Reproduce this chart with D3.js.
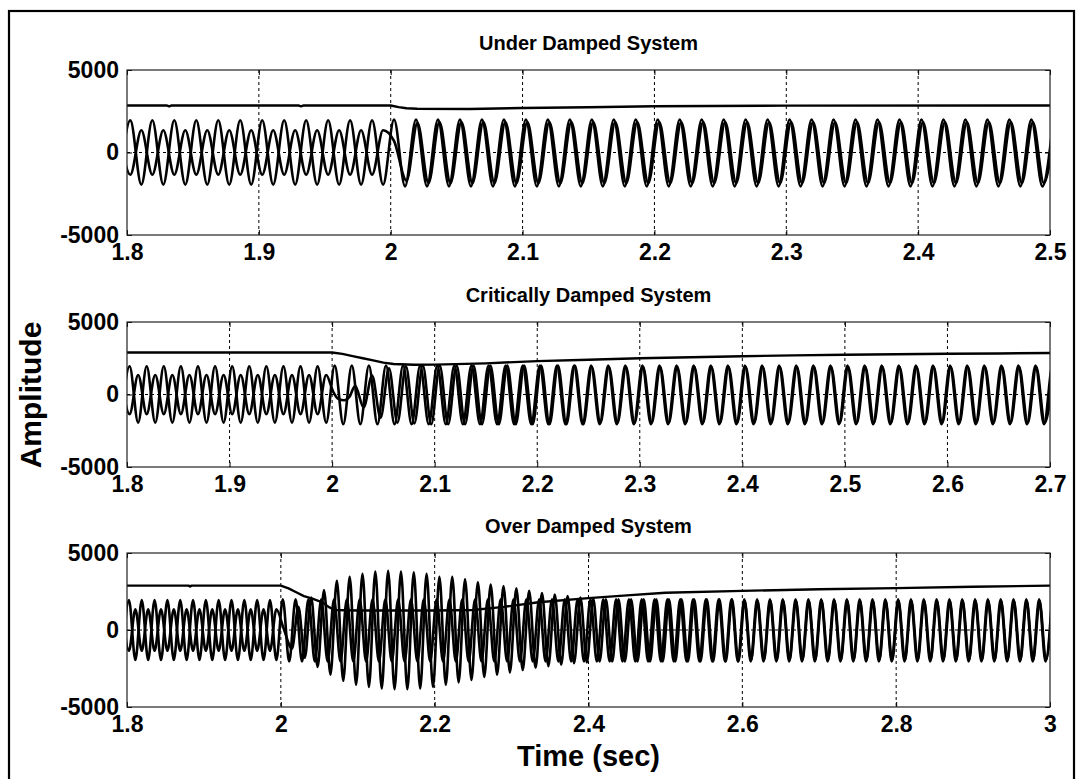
<!DOCTYPE html>
<html>
<head>
<meta charset="utf-8">
<script src="https://cdn.jsdelivr.net/npm/d3@7"></script>
<style>
  body { margin: 0; background: #fff; }
  svg { display: block; }
  text { font-family: "Liberation Sans", Arial, Helvetica, sans-serif; font-weight: bold; fill: #000; }
</style>
</head>
<body>
<svg id="chart" width="1078" height="779"></svg>
<script>
// ---------------------------------------------------------------------------
// Data. Waveforms are stored as the values at successive peaks/troughs of the
// 60 Hz signals (one extremum every half period); a monotone curve joins them.
// ---------------------------------------------------------------------------
const HALF = 1 / 120;            // half period of a 60 Hz wave (s)
const T_START = 1.7942;          // first trough of the reference wave

const titles = ["Under Damped System", "Critically Damped System", "Over Damped System"];
const xDomains = [[1.8, 2.5], [1.8, 2.7], [1.8, 3.0]];
const xTicksUnder = [1.8, 1.9, 2.0, 2.1, 2.2, 2.3, 2.4, 2.5];
const xTicksCrit = [1.8, 1.9, 2.0, 2.1, 2.2, 2.3, 2.4, 2.5, 2.6, 2.7];
const xTicksOver = [1.8, 2.0, 2.2, 2.4, 2.6, 2.8, 3.0];
const yTicks = [-5000, 0, 5000];

// steady state before the disturbance at t = 2 s (shared by all three runs)
const steadyA = [-1950, 1950, -1950, 1950, -1950, 1950, -1950, 1950, -1950, 1950,
                 -1950, 1950, -1950, 1950, -1950, 1950, -1950, 1950, -1950, 1950,
                 -1950, 1950, -1950, 1950, -1950];
const steadyB = [1350, -1350, 1350, -1350, 1350, -1350, 1350, -1350, 1350, -1350,
                 1350, -1350, 1350, -1350, 1350, -1350, 1350, -1350, 1350, -1350,
                 1350, -1350, 1350, -1350, 1350];

// --- Under damped ---
const underA_post = [2000, -2050, 2000, -2050, 2000, -2050, 2000, -2050, 2000, -2050,
                     2000, -2050, 2000, -2050, 2000, -2050, 2000, -2050, 2000, -2050,
                     2000, -2050, 2000, -2050, 2000, -2050, 2000, -2050, 2000, -2050,
                     2000, -2050, 2000, -2050, 2000, -2050, 2000, -2050, 2000, -2050,
                     2000, -2050, 2000, -2050, 2000, -2050, 2000, -2050, 2000, -2050,
                     2000, -2050, 2000, -2050, 2000, -2050, 2000, -2050, 2000, -2050,
                     2000];
const underB_switch = [[2.0025, 700]];
const underB_post = [-1700, 1800, -1850, 1850, -1850, 1850, -1850, 1850, -1850, 1850,
                     -1850, 1850, -1850, 1850, -1850, 1850, -1850, 1850, -1850, 1850,
                     -1850, 1850, -1850, 1850, -1850, 1850, -1850, 1850, -1850, 1850,
                     -1850, 1850, -1850, 1850, -1850, 1850, -1850, 1850, -1850, 1850,
                     -1850, 1850, -1850, 1850, -1850, 1850, -1850, 1850, -1850, 1850,
                     -1850, 1850, -1850, 1850, -1850, 1850, -1850, 1850, -1850, 1850];
const underDC = [[1.8, 2850], [1.83, 2850], [1.832, 2790], [1.834, 2850], [1.93, 2850],
                 [1.932, 2800], [1.934, 2850], [2.0, 2850], [2.006, 2750], [2.012, 2680],
                 [2.02, 2650], [2.06, 2640], [2.1, 2700], [2.15, 2740], [2.2, 2800],
                 [2.3, 2840], [2.5, 2850]];

// --- Critically damped ---
const critA_post = [2000, -2050, 2000, -2050, 2000, -2050, 2000, -2050, 2000, -2050,
                    2000, -2050, 2000, -2050, 2000, -2050, 2000, -2050, 2000, -2050,
                    2000, -2050, 2000, -2050, 2000, -2050, 2000, -2050, 2000, -2050,
                    2000, -2050, 2000, -2050, 2000, -2050, 2000, -2050, 2000, -2050,
                    2000, -2050, 2000, -2050, 2000, -2050, 2000, -2050, 2000, -2050,
                    2000, -2050, 2000, -2050, 2000, -2050, 2000, -2050, 2000, -2050,
                    2000, -2050, 2000, -2050, 2000, -2050, 2000, -2050, 2000, -2050,
                    2000, -2050, 2000, -2050, 2000, -2050, 2000, -2050, 2000, -2050,
                    2000, -2050, 2000, -2050, 2000, -2050];
const critB_switch = [[2.0010, 200], [2.0060, -300], [2.0120, -400], [2.0170, -150]];
const critB_pull = [600, -900, 1300, -1600, 1800, -1950, 1950, -2000, 2000, -2050,
                    2000, -2050, 2000, -2050, 2000, -2050, 2000, -2050, 2000, -2050,
                    2000, -2050, 2000, -2050, 2000, -2050, 2000, -2050];
const critB_post = [1900, -1950, 1900, -1950, 1900, -1950, 1900, -1950, 1900, -1950,
                    1900, -1950, 1900, -1950, 1900, -1950, 1900, -1950, 1900, -1950,
                    1900, -1950, 1900, -1950, 1900, -1950, 1900, -1950, 1900, -1950,
                    1900, -1950, 1900, -1950, 1900, -1950, 1900, -1950, 1900, -1950,
                    1900, -1950, 1900, -1950, 1900, -1950, 1900, -1950, 1900, -1950,
                    1900, -1950, 1900, -1950, 1900];
const critDC = [[1.8, 2900], [2.0, 2900], [2.01, 2800], [2.02, 2650], [2.03, 2500],
                [2.04, 2350], [2.05, 2200], [2.06, 2100], [2.08, 2050], [2.1, 2060],
                [2.15, 2150], [2.2, 2300], [2.25, 2400], [2.3, 2500], [2.35, 2570],
                [2.4, 2640], [2.45, 2700], [2.5, 2740], [2.55, 2780], [2.6, 2810],
                [2.65, 2830], [2.7, 2860]];

// --- Over damped ---
const overA_post = [2000, -2050, 2000, -2050, 2000, -2050, 2000, -2050, 2000, -2050,
                    2000, -2050, 2000, -2050, 2000, -2050, 2000, -2050, 2000, -2050,
                    2000, -2050, 2000, -2050, 2000, -2050, 2000, -2050, 2000, -2050,
                    2000, -2050, 2000, -2050, 2000, -2050, 2000, -2050, 2000, -2050,
                    2000, -2050, 2000, -2050, 2000, -2050, 2000, -2050, 2000, -2050,
                    2000, -2050, 2000, -2050, 2000, -2050, 2000, -2050, 2000, -2050,
                    2000, -2050, 2000, -2050, 2000, -2050, 2000, -2050, 2000, -2050,
                    2000, -2050, 2000, -2050, 2000, -2050, 2000, -2050, 2000, -2050,
                    2000, -2050, 2000, -2050, 2000, -2050, 2000, -2050, 2000, -2050,
                    2000, -2050, 2000, -2050, 2000, -2050, 2000, -2050, 2000, -2050,
                    2000, -2050, 2000, -2050, 2000, -2050, 2000, -2050, 2000, -2050,
                    2000, -2050, 2000, -2050, 2000, -2050, 2000, -2050, 2000, -2050,
                    2000];
const overB_switch = [[2.0030, 200]];
const overB_swing = [-1200, 1500, -1800, 2100, -2400, 2600, -2900, 3200, -3300, 3450,
                     -3550, 3650, -3700, 3800, -3800, 3850, -3850, 3800, -3850, 3750,
                     -3800, 3650, -3700, 3450, -3550, 3450, -3400, 3300, -3250, 3100,
                     -3050, 2950, -2900, 2850, -2750, 2700, -2600, 2550, -2450, 2400,
                     -2350, 2300, -2250, 2200, -2150, 2100, -2100, 2050];
const overB_pull = [-2050, 2000, -2050, 2000, -2050, 2000, -2050, 2000, -2050, 2000,
                    -2050, 2000, -2050, 2000, -2050, 2000, -2050, 2000, -2050, 2000,
                    -2050, 2000, -2050];
const overB_post = [1900, -1950, 1900, -1950, 1900, -1950, 1900, -1950, 1900, -1950,
                    1900, -1950, 1900, -1950, 1900, -1950, 1900, -1950, 1900, -1950,
                    1900, -1950, 1900, -1950, 1900, -1950, 1900, -1950, 1900, -1950,
                    1900, -1950, 1900, -1950, 1900, -1950, 1900, -1950, 1900, -1950,
                    1900, -1950, 1900, -1950, 1900, -1950, 1900, -1950, 1900];
const overDC = [[1.8, 2880], [1.88, 2880], [1.882, 2820], [1.884, 2880], [2.0, 2880],
                [2.01, 2700], [2.02, 2450], [2.03, 2200], [2.04, 2050], [2.054, 1800],
                [2.062, 1500], [2.07, 1300], [2.1, 1270], [2.2, 1270], [2.25, 1300],
                [2.29, 1500], [2.335, 1800], [2.4, 2070], [2.45, 2250], [2.5, 2420],
                [2.6, 2540], [2.7, 2650], [2.8, 2720], [2.9, 2810], [3.0, 2880]];

// ---------------------------------------------------------------------------
// Assemble the time/value pairs of each trace
// ---------------------------------------------------------------------------
function extrema(start, step, values) {
  return values.map((v, i) => [start + i * step, v]);
}
const tAfter = T_START + steadyA.length * HALF;   // first peak after t = 2 s

const traces = [
  {
    a: [...extrema(T_START, HALF, steadyA), ...extrema(tAfter, HALF, underA_post)],
    b: [...extrema(T_START, HALF, steadyB), ...underB_switch, ...extrema(2.0120, HALF, underB_post)],
    dc: underDC
  },
  {
    a: [...extrema(T_START, HALF, steadyA), ...extrema(tAfter, HALF, critA_post)],
    b: [...extrema(T_START, HALF, steadyB), ...critB_switch,
        ...extrema(2.0225, 0.00824, critB_pull), ...extrema(2.2533, HALF, critB_post)],
    dc: critDC
  },
  {
    a: [...extrema(T_START, HALF, steadyA), ...extrema(tAfter, HALF, overA_post)],
    b: [...extrema(T_START, HALF, steadyB), ...overB_switch,
        ...extrema(2.0145, HALF, overB_swing), ...extrema(2.4144, 0.0082, overB_pull),
        ...extrema(2.6031, HALF, overB_post)],
    dc: overDC
  }
];
const xTickSets = [xTicksUnder, xTicksCrit, xTicksOver];

// ---------------------------------------------------------------------------
// Drawing
// ---------------------------------------------------------------------------
const svg = d3.select("#chart");
const LEFT = 127, RIGHT = 1050;
const frames = [{ top: 70, bottom: 235 }, { top: 322, bottom: 467 }, { top: 553, bottom: 707 }];

// figure frame
svg.append("rect")
  .attr("x", 9).attr("y", 11).attr("width", 1065).attr("height", 800)
  .attr("fill", "none").attr("stroke", "#000").attr("stroke-width", 2.2);

const fmtX = d => String(+d.toFixed(1));
const fmtY = d => String(d);      // plain hyphen for negatives

frames.forEach((f, i) => {
  const x = d3.scaleLinear().domain(xDomains[i]).range([LEFT, RIGHT]);
  const y = d3.scaleLinear().domain([-5000, 5000]).range([f.bottom, f.top]);
  const g = svg.append("g");

  const clipId = "clip" + i;
  svg.append("clipPath").attr("id", clipId)
    .append("rect").attr("x", LEFT).attr("y", f.top)
    .attr("width", RIGHT - LEFT).attr("height", f.bottom - f.top);

  // dashed grid
  g.append("g").selectAll("line").data(xTickSets[i].slice(1, -1)).join("line")
    .attr("x1", d => x(d)).attr("x2", d => x(d))
    .attr("y1", f.top).attr("y2", f.bottom)
    .attr("stroke", "#000").attr("stroke-width", 1).attr("stroke-dasharray", "3,3");
  g.append("line")
    .attr("x1", LEFT).attr("x2", RIGHT).attr("y1", y(0)).attr("y2", y(0))
    .attr("stroke", "#000").attr("stroke-width", 1).attr("stroke-dasharray", "3,3");

  // traces
  const wave = d3.line().x(d => x(d[0])).y(d => y(d[1])).curve(d3.curveMonotoneX);
  const flat = d3.line().x(d => x(d[0])).y(d => y(d[1]));
  const plot = g.append("g").attr("clip-path", `url(#${clipId})`)
    .attr("fill", "none").attr("stroke", "#000").attr("stroke-linejoin", "round");
  plot.append("path").attr("d", wave(traces[i].b)).attr("stroke-width", 2.6);
  plot.append("path").attr("d", wave(traces[i].a)).attr("stroke-width", 2.6);
  plot.append("path").attr("d", flat(traces[i].dc)).attr("stroke-width", 2.4);

  // axes (inward ticks, box drawn separately)
  const xAxis = g.append("g").attr("transform", `translate(0,${f.bottom})`)
    .call(d3.axisBottom(x).tickValues(xTickSets[i]).tickFormat(fmtX).tickSize(-5).tickPadding(9));
  const xAxisTop = g.append("g").attr("transform", `translate(0,${f.top})`)
    .call(d3.axisTop(x).tickValues(xTickSets[i]).tickFormat("").tickSize(-5));
  const yAxis = g.append("g").attr("transform", `translate(${LEFT},0)`)
    .call(d3.axisLeft(y).tickValues(yTicks).tickFormat(fmtY).tickSize(-5).tickPadding(8));
  const yAxisRight = g.append("g").attr("transform", `translate(${RIGHT},0)`)
    .call(d3.axisRight(y).tickValues(yTicks).tickFormat("").tickSize(-5));
  [xAxis, xAxisTop, yAxis, yAxisRight].forEach(ax => {
    ax.select(".domain").remove();
    ax.selectAll(".tick line").attr("stroke", "#000");
    ax.selectAll("text").attr("font-size", 23).attr("font-family", null);
  });

  g.append("rect")
    .attr("x", LEFT).attr("y", f.top).attr("width", RIGHT - LEFT).attr("height", f.bottom - f.top)
    .attr("fill", "none").attr("stroke", "#222").attr("stroke-width", 1.2);

  g.append("text")
    .attr("x", (LEFT + RIGHT) / 2).attr("y", f.top - 20)
    .attr("text-anchor", "middle").attr("font-size", 20)
    .text(titles[i]);
});

svg.append("text")
  .attr("transform", "translate(41,395) rotate(-90)")
  .attr("text-anchor", "middle").attr("font-size", 30)
  .text("Amplitude");

svg.append("text")
  .attr("x", (LEFT + RIGHT) / 2).attr("y", 766)
  .attr("text-anchor", "middle").attr("font-size", 29)
  .text("Time (sec)");
</script>
</body>
</html>
